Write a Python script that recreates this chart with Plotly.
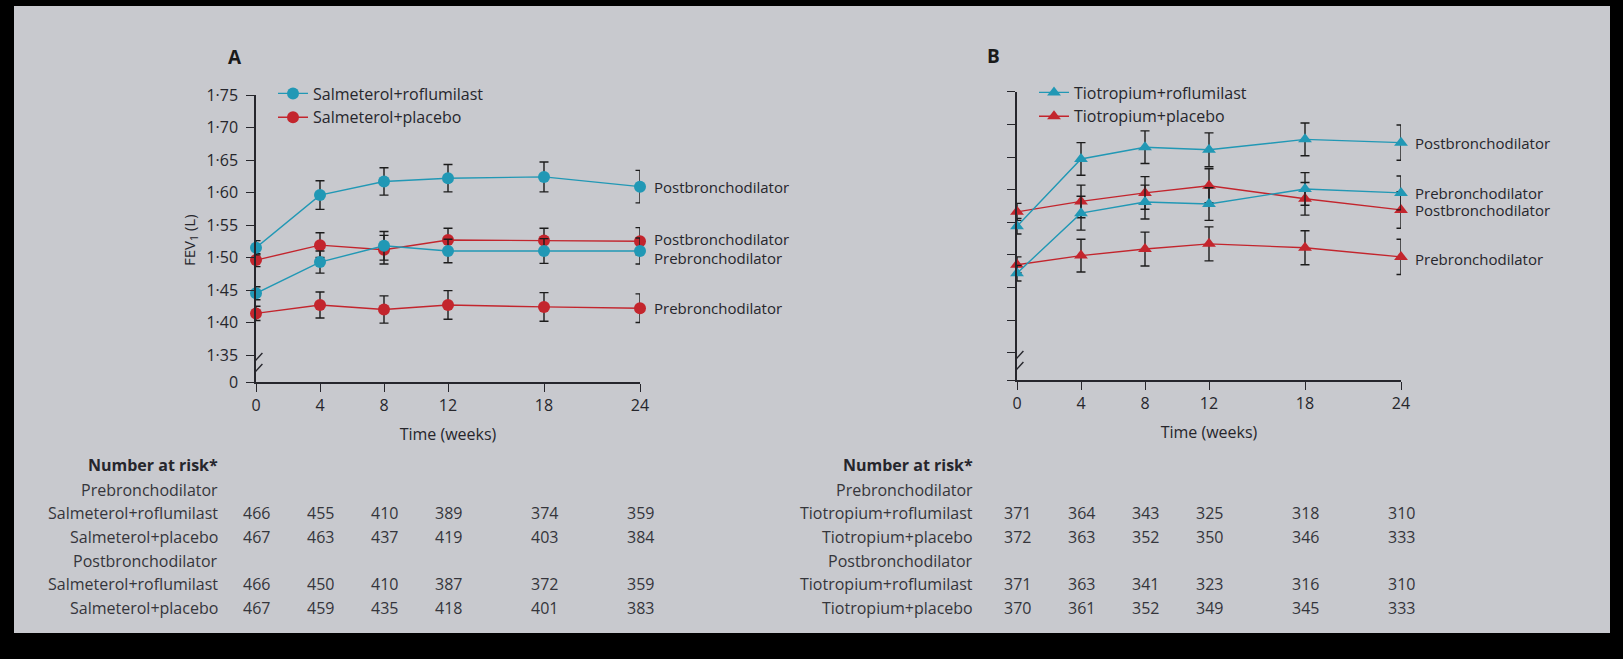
import plotly.graph_objects as go

W, H = 1623, 659

# ---------------- data ----------------
weeks = [0, 4, 8, 12, 18, 24]
week_labels = ["0", "4", "8", "12", "18", "24"]

# Panel A (FEV1, L)
a_salm_rof_post = [1.515, 1.596, 1.617, 1.622, 1.624, 1.609]
a_salm_rof_post_err = [0.011, 0.022, 0.021, 0.021, 0.023, 0.025]
a_salm_rof_pre = [1.445, 1.493, 1.518, 1.510, 1.510, 1.510]
a_salm_rof_pre_err = [0.010, 0.017, 0.022, 0.018, 0.019, 0.020]
a_salm_pla_post = [1.496, 1.519, 1.512, 1.527, 1.526, 1.525]
a_salm_pla_post_err = [0.010, 0.019, 0.022, 0.018, 0.019, 0.021]
a_salm_pla_pre = [1.414, 1.427, 1.420, 1.427, 1.424, 1.422]
a_salm_pla_pre_err = [0.011, 0.020, 0.021, 0.022, 0.022, 0.022]

# Panel B (FEV1, L)
b_tio_rof_post = [1.544, 1.647, 1.665, 1.661, 1.677, 1.672]
b_tio_rof_post_err = [0.012, 0.025, 0.025, 0.026, 0.025, 0.027]
b_tio_rof_pre = [1.472, 1.564, 1.581, 1.578, 1.601, 1.595]
b_tio_rof_pre_err = [0.012, 0.026, 0.026, 0.025, 0.025, 0.026]
b_tio_pla_post = [1.566, 1.582, 1.595, 1.606, 1.586, 1.569]
b_tio_pla_post_err = [0.013, 0.025, 0.025, 0.026, 0.025, 0.028]
b_tio_pla_pre = [1.485, 1.499, 1.509, 1.517, 1.511, 1.497]
b_tio_pla_pre_err = [0.012, 0.025, 0.026, 0.026, 0.026, 0.027]

y_bottom = 1.3085  # position of the "0" tick after the axis break
y_tickvals = [y_bottom, 1.35, 1.40, 1.45, 1.50, 1.55, 1.60, 1.65, 1.70, 1.75]
y_ticktext = ["0", "1·35", "1·40", "1·45", "1·50", "1·55", "1·60", "1·65", "1·70", "1·75"]

# Number at risk
risk_a = [
    ("Prebronchodilator", None),
    ("Salmeterol+roflumilast", [466, 455, 410, 389, 374, 359]),
    ("Salmeterol+placebo", [467, 463, 437, 419, 403, 384]),
    ("Postbronchodilator", None),
    ("Salmeterol+roflumilast", [466, 450, 410, 387, 372, 359]),
    ("Salmeterol+placebo", [467, 459, 435, 418, 401, 383]),
]
risk_b = [
    ("Prebronchodilator", None),
    ("Tiotropium+roflumilast", [371, 364, 343, 325, 318, 310]),
    ("Tiotropium+placebo", [372, 363, 352, 350, 346, 333]),
    ("Postbronchodilator", None),
    ("Tiotropium+roflumilast", [371, 363, 341, 323, 316, 310]),
    ("Tiotropium+placebo", [370, 361, 352, 349, 345, 333]),
]

# ---------------- style ----------------
TEAL = "#2198b5"
RED = "#c3252d"
INK = "#26262c"
PAPER = "#c8c9ce"
FONT = "Open Sans"

def px_x(p):
    return p / W

def px_y(p):
    return 1 - p / H

fig = go.Figure()

def add_series(x, y, err, color, symbol, name, xa, ya, legend, showlegend, rank):
    fig.add_trace(go.Scatter(
        x=x, y=y, mode="lines+markers", name=name,
        xaxis=xa, yaxis=ya, legend=legend, legendgroup=name + legend,
        showlegend=showlegend, legendrank=rank, cliponaxis=False,
        line=dict(color=color, width=1.4),
        marker=dict(color=color, size=12, symbol=symbol, line=dict(width=0)),
        error_y=dict(type="data", array=err, visible=True, color="#1c1c1c",
                     thickness=1.4, width=4.5),
    ))

# Panel A (red first so teal draws on top)
add_series(weeks, a_salm_pla_pre, a_salm_pla_pre_err, RED, "circle", "Salmeterol+placebo", "x", "y", "legend", False, 2)
add_series(weeks, a_salm_pla_post, a_salm_pla_post_err, RED, "circle", "Salmeterol+placebo", "x", "y", "legend", True, 2)
add_series(weeks, a_salm_rof_pre, a_salm_rof_pre_err, TEAL, "circle", "Salmeterol+roflumilast", "x", "y", "legend", False, 1)
add_series(weeks, a_salm_rof_post, a_salm_rof_post_err, TEAL, "circle", "Salmeterol+roflumilast", "x", "y", "legend", True, 1)

# Panel B
add_series(weeks, b_tio_pla_pre, b_tio_pla_pre_err, RED, "triangle-up", "Tiotropium+placebo", "x2", "y2", "legend2", False, 2)
add_series(weeks, b_tio_pla_post, b_tio_pla_post_err, RED, "triangle-up", "Tiotropium+placebo", "x2", "y2", "legend2", True, 2)
add_series(weeks, b_tio_rof_pre, b_tio_rof_pre_err, TEAL, "triangle-up", "Tiotropium+roflumilast", "x2", "y2", "legend2", False, 1)
add_series(weeks, b_tio_rof_post, b_tio_rof_post_err, TEAL, "triangle-up", "Tiotropium+roflumilast", "x2", "y2", "legend2", True, 1)

xaxis_common = dict(
    range=[0, 24], tickvals=weeks, ticktext=week_labels,
    showline=True, linecolor=INK, linewidth=1.5, ticks="outside", ticklen=8,
    tickwidth=1.4, tickcolor=INK, showgrid=False, zeroline=False, automargin=False,
    tickfont=dict(family=FONT, size=16, color=INK),
    title=dict(text="Time (weeks)", font=dict(family=FONT, size=16, color=INK), standoff=14),
)
yaxis_common = dict(
    range=[y_bottom, 1.75], tickvals=y_tickvals, ticktext=y_ticktext,
    showline=True, linecolor=INK, linewidth=1.5, ticks="outside", ticklen=8,
    tickwidth=1.4, tickcolor=INK, showgrid=False, zeroline=False, automargin=False,
    tickfont=dict(family=FONT, size=16, color=INK), ticklabelstandoff=5,
)

fig.update_layout(
    width=W, height=H, autosize=False,
    margin=dict(l=0, r=0, t=0, b=0, pad=0, autoexpand=False),
    paper_bgcolor="black",
    plot_bgcolor="rgba(0,0,0,0)",
    font=dict(family=FONT, size=16, color=INK),
    xaxis=dict(domain=[px_x(256), px_x(640)], anchor="y", **xaxis_common),
    yaxis=dict(domain=[px_y(382), px_y(95)], anchor="x", **yaxis_common),
    xaxis2=dict(domain=[px_x(1017), px_x(1401)], anchor="y2", **xaxis_common),
    yaxis2=dict(domain=[px_y(380), px_y(91.7)], anchor="x2", showticklabels=False, **yaxis_common),
    legend=dict(x=px_x(273), y=px_y(76.5), xanchor="left", yanchor="top",
                bgcolor="rgba(0,0,0,0)", font=dict(family=FONT, size=16, color=INK),
                tracegroupgap=0, itemwidth=30),
    legend2=dict(x=px_x(1034), y=px_y(75.5), xanchor="left", yanchor="top",
                 bgcolor="rgba(0,0,0,0)", font=dict(family=FONT, size=16, color=INK),
                 tracegroupgap=0, itemwidth=30),
    showlegend=True,
)

shapes = [
    dict(type="rect", xref="paper", yref="paper", x0=px_x(14), x1=px_x(1610),
         y0=px_y(633), y1=px_y(6), fillcolor=PAPER, line=dict(width=0), layer="below"),
]
# axis-break marks
for xa, ya in (("x", "y"), ("x2", "y2")):
    for (ya0, ya1) in ((1.3146, 1.3362), (1.3315, 1.353)):
        shapes.append(dict(type="line", xref=xa, yref=ya, x0=-0.4, x1=0.4, y0=ya0, y1=ya1,
                           line=dict(color=INK, width=1.4)))
fig.update_layout(shapes=shapes)

ann = []
# y-axis title
ann.append(dict(text="FEV<sub>1</sub> (L)", x=px_x(190), y=px_y(240), xref="paper", yref="paper",
                xanchor="center", yanchor="middle",
                textangle=-90, showarrow=False, font=dict(family=FONT, size=15, color=INK)))
# panel letters
ann.append(dict(text="<b>A</b>", x=px_x(235), y=px_y(57), xref="paper", yref="paper",
                xanchor="center", yanchor="middle",
                showarrow=False, font=dict(family=FONT, size=19, color="#1a1a1a")))
ann.append(dict(text="<b>B</b>", x=px_x(993), y=px_y(56), xref="paper", yref="paper",
                xanchor="center", yanchor="middle",
                showarrow=False, font=dict(family=FONT, size=19, color="#1a1a1a")))

# right-hand series labels
side_labels_a = [("Postbronchodilator", a_salm_rof_post[-1]),
                 ("Postbronchodilator", 1.528),
                 ("Prebronchodilator", 1.499),
                 ("Prebronchodilator", a_salm_pla_pre[-1])]
side_labels_b = [("Postbronchodilator", b_tio_rof_post[-1]),
                 ("Prebronchodilator", b_tio_rof_pre[-1]),
                 ("Postbronchodilator", b_tio_pla_post[-1]),
                 ("Prebronchodilator", 1.494)]
for xa, ya, labels in (("x", "y", side_labels_a), ("x2", "y2", side_labels_b)):
    for text, yv in labels:
        ann.append(dict(text=text, x=24, y=yv, xref=xa, yref=ya, xanchor="left",
                        yanchor="middle", xshift=12, showarrow=False,
                        font=dict(family=FONT, size=15, color=INK)))

# number at risk tables
row_y = [490, 513, 537, 561, 584, 608]
for xa, label_x, rows in (("x", 220, risk_a), ("x2", 975, risk_b)):
    ann.append(dict(text="<b>Number at risk*</b>", x=px_x(label_x), y=px_y(465),
                    xref="paper", yref="paper", xanchor="right", yanchor="middle",
                    showarrow=False, font=dict(family=FONT, size=16, color=INK)))
    for (label, values), yy in zip(rows, row_y):
        ann.append(dict(text=label, x=px_x(label_x), y=px_y(yy), xref="paper", yref="paper",
                        xanchor="right", yanchor="middle", showarrow=False,
                        font=dict(family=FONT, size=16, color="#35353b")))
        if values:
            for wk, v in zip(weeks, values):
                ann.append(dict(text=str(v), x=wk, y=px_y(yy), xref=xa, yref="paper",
                                xanchor="center", yanchor="middle", showarrow=False,
                                font=dict(family=FONT, size=16, color="#35353b")))
fig.update_layout(annotations=ann)

post_js = ("document.documentElement.style.margin='0';document.body.style.margin='0';"
           "document.body.style.padding='0';document.body.style.overflow='hidden';"
           "document.documentElement.style.overflow='hidden';")
fig.write_html("out.html", post_script=post_js, config={"displayModeBar": False})
